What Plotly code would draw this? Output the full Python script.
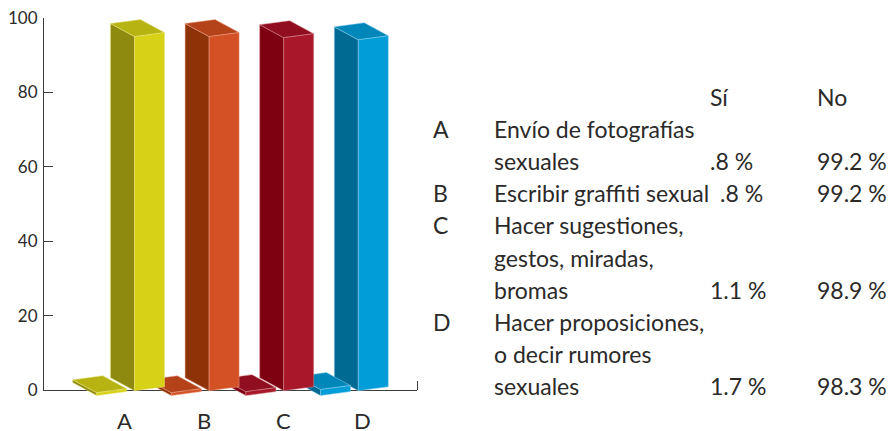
import plotly.graph_objects as go

categories = ['A', 'B', 'C', 'D']
si_values = [0.8, 0.8, 1.1, 1.7]
no_values = [99.2, 99.2, 98.9, 98.3]
y_ticks = [0, 20, 40, 60, 80, 100]

header_labels = ['Sí', 'No']
row_letters = ['A', 'B', 'C', 'D']
row_lines = [
    ['Envío de fotografías', 'sexuales'],
    ['Escribir graffiti sexual'],
    ['Hacer sugestiones,', 'gestos, miradas,', 'bromas'],
    ['Hacer proposiciones,', 'o decir rumores', 'sexuales'],
]
si_labels = ['.8 %', '.8 %', '1.1 %', '1.7 %']
no_labels = ['99.2 %', '99.2 %', '98.9 %', '98.3 %']

face_colors = [
    ('#D7D117', '#8E8A10', '#B7B312'),
    ('#D45126', '#8E3208', '#B54319'),
    ('#A9182A', '#7E0112', '#900E1F'),
    ('#009DD9', '#006A93', '#0087BA'),
]
edge_colors = ['#E6E27A', '#E8A184', '#D58A92', '#8CCFEA']

# geometry, in pixels of the page
W, H = 888, 431
LEFT, RIGHT, TOP, BOTTOM = 44, 417, 18, 390
UNIT = (BOTTOM - TOP) / 100
BAR_SCALE = 3.57 / UNIT   # bars are drawn slightly shorter than the back scale
STEP = 74.6
TALL_X, SHORT_X = 134.5, 96.7
TALL_FLOOR, SHORT_FLOOR = -0.2, -1.5
WIDTH_DX, WIDTH_DY = 30, 4 / UNIT
DEPTH_DX, DEPTH_DY = 24, 13 / UNIT
LABEL_X = [124, 204, 283, 362]
FONT = 'Lato'
TEXT = '#2b2a29'
AXIS = '#3c3c3b'


def y_at(py):
    return (BOTTOM - py) / UNIT


def face(points, color, edge, name):
    xs = [p[0] for p in points] + [points[0][0]]
    ys = [p[1] for p in points] + [points[0][1]]
    return go.Scatter(x=xs, y=ys, xaxis='x2', yaxis='y2', mode='lines', fill='toself',
                      fillcolor=color, line=dict(color=edge, width=0.5),
                      hoverinfo='skip', showlegend=False, name=name)


def box(fx, floor, value, colors, edge, name):
    h = value * BAR_SCALE
    front = (fx, floor)
    right = (fx + WIDTH_DX, floor + WIDTH_DY)
    left = (fx - DEPTH_DX, floor + DEPTH_DY)
    top = lambda p: (p[0], p[1] + h)
    back = (left[0] + WIDTH_DX, left[1] + WIDTH_DY)
    return [
        face([left, front, top(front), top(left)], colors[1], edge, name),
        face([top(left), top(back), top(right), top(front)], colors[2], edge, name),
        face([front, right, top(right), top(front)], colors[0], edge, name),
    ]


fig = go.Figure()
# keeps the visible axes alive, draws nothing
fig.add_trace(go.Scatter(x=LABEL_X, y=no_values, mode='none', hoverinfo='skip', showlegend=False))
# drawn right to left: each tall bar covers the next short one
for i in reversed(range(len(categories))):
    fig.add_traces(box(TALL_X + i * STEP, TALL_FLOOR, no_values[i],
                       face_colors[i], edge_colors[i], categories[i] + ' No'))
    fig.add_traces(box(SHORT_X + i * STEP, SHORT_FLOOR, si_values[i],
                       face_colors[i], edge_colors[i], categories[i] + ' Sí'))

notes = []


def note(x, py, text, anchor='left', size=23):
    notes.append(dict(x=x, y=y_at(py), xref='x2', yref='y2', text=text, showarrow=False,
                      xanchor=anchor, yanchor='middle',
                      font=dict(family=FONT, size=size, color=TEXT)))


for x, label in zip(LABEL_X, categories):
    note(x, 420.5, label, anchor='center', size=22)

note(708, 97, header_labels[0])
note(815, 97, header_labels[1])
row_y = 128.8
line_h = 32.2
for i, lines in enumerate(row_lines):
    note(431, row_y, row_letters[i])
    for line in lines:
        note(492, row_y, line)
        row_y += line_h
    last = row_y - line_h
    note(718 if i == 1 else 708, last, si_labels[i])
    note(815, last, no_labels[i])

fig.update_layout(
    width=W, height=H,
    margin=dict(l=0, r=0, t=0, b=0),
    paper_bgcolor='white', plot_bgcolor='rgba(0,0,0,0)',
    showlegend=False,
    annotations=notes,
    xaxis=dict(
        domain=[LEFT / W, RIGHT / W], range=[LEFT, RIGHT], automargin=False,
        showgrid=False, zeroline=False,
        showline=True, linecolor=AXIS, linewidth=1.2,
        tickmode='array', tickvals=LABEL_X, showticklabels=False, ticks='',
        minor=dict(tickmode='array', tickvals=[RIGHT], ticks='inside', ticklen=9,
                   tickcolor=AXIS, showgrid=False),
    ),
    yaxis=dict(
        domain=[(H - BOTTOM) / H, (H - TOP) / H], range=[0, 100], automargin=False,
        showgrid=False, zeroline=False,
        showline=True, linecolor=AXIS, linewidth=1.2,
        tickmode='array', tickvals=y_ticks, ticks='inside', ticklen=9, tickcolor=AXIS,
        ticklabelstandoff=2, ticklabeloverflow='allow',
        tickfont=dict(family=FONT, size=17, color=TEXT),
    ),
    # page-wide overlay in the same value scale, so bars can leave the axis box
    xaxis2=dict(domain=[0, 1], range=[0, W], visible=False, anchor='y2', automargin=False),
    yaxis2=dict(domain=[0, 1], range=[y_at(H), y_at(0)], visible=False, anchor='x2', automargin=False),
)
# the browser's default body margin would push the chart off the window
fig.write_html('out.html', config=dict(displayModeBar=False),
               post_script="document.body.style.margin = '0';")
